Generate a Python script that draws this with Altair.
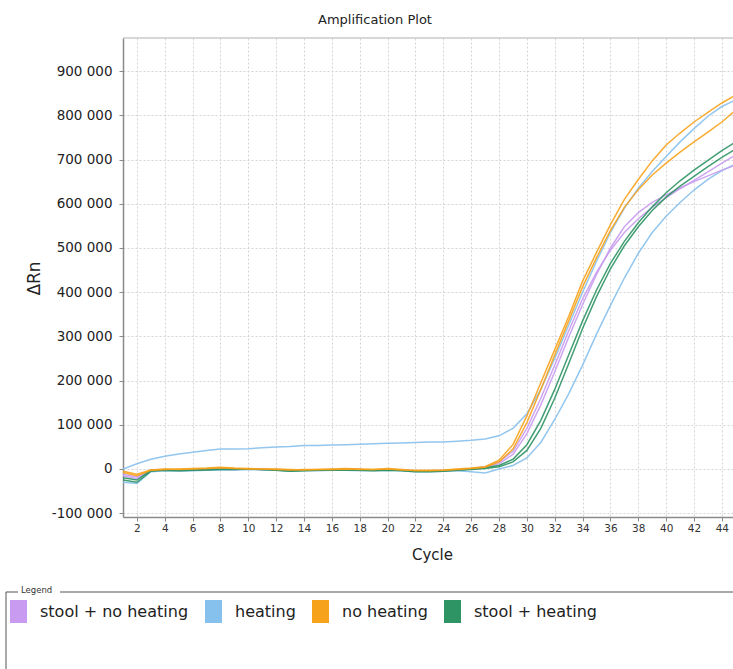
import altair as alt
import pandas as pd

cycles = list(range(1, 46))
groups = ["stool + no heating", "heating", "no heating", "stool + heating"]
colors = ["#c89bf0", "#86c0ec", "#f7a21b", "#2e9464"]
x_ticks = [2, 4, 6, 8, 10, 12, 14, 16, 18, 20, 22, 24, 26, 28, 30, 32, 34, 36, 38, 40, 42, 44]
y_ticks = [-100000, 0, 100000, 200000, 300000, 400000, 500000, 600000, 700000, 800000, 900000]

# ΔRn per well, cycles 1..45
stool_no_heating_a = [-12000, -18000, -2000, -1000, -2000, -1000, 0, 1000, 0, 0, -1000, -1000, -3000, -2000, -2000,
                      -1000, 0, -1000, -2000, -1000, -2000, -4000, -4000, -3000, -1000, 1000,
                      5000, 16000, 40000, 92000, 160000, 235000, 312000, 385000, 445000, 495000, 535000, 566000,
                      592000, 614000, 634000, 653000, 672000, 692000, 710000]
stool_no_heating_b = [-15000, -22000, -4000, -2000, -2000, -2000, -1000, 0, -1000, 0, 0, -2000, -3000, -3000, -2000,
                      -2000, -1000, -2000, -2000, -2000, -3000, -5000, -5000, -4000, -2000, 0,
                      3000, 12000, 33000, 80000, 145000, 220000, 298000, 372000, 440000, 500000, 548000, 580000,
                      603000, 620000, 636000, 650000, 663000, 676000, 688000]
heating_a = [0, 12000, 22000, 29000, 34000, 38000, 42000, 45000, 45000, 46000, 48000, 50000, 51000, 53000, 53000,
             54000, 55000, 56000, 57000, 58000, 59000, 60000, 61000, 61000, 63000, 65000,
             68000, 75000, 92000, 125000, 180000, 250000, 325000, 400000, 470000, 535000, 590000, 635000,
             673000, 707000, 740000, 770000, 798000, 820000, 835000]
heating_b = [-30000, -33000, -6000, -4000, -5000, -4000, -3000, -2000, -2000, -1000, -2000, -3000, -5000, -4000, -4000,
             -3000, -3000, -4000, -4000, -3000, -4000, -6000, -6000, -5000, -4000, -6000,
             -9000, 0, 8000, 25000, 60000, 112000, 170000, 235000, 305000, 370000, 432000, 488000,
             535000, 572000, 603000, 631000, 655000, 675000, 690000]
no_heating_a = [-5000, -12000, -2000, 0, -1000, 0, 1000, 3000, 1000, 0, 0, -1000, -2000, -1000, -1000,
                -1000, 0, -1000, -1000, 0, -2000, -3000, -3000, -2000, 0, 2000,
                5000, 20000, 55000, 120000, 195000, 270000, 345000, 425000, 490000, 553000, 610000, 655000,
                697000, 733000, 760000, 785000, 807000, 828000, 846000]
no_heating_b = [-8000, -15000, -3000, -1000, 0, 1000, 2000, 4000, 2000, 1000, 0, 0, -1000, -2000, -1000,
                0, 1000, 0, -1000, 1000, -1000, -4000, -4000, -3000, -1000, 1000,
                4000, 16000, 45000, 105000, 180000, 258000, 335000, 412000, 478000, 540000, 592000, 632000,
                665000, 692000, 717000, 740000, 762000, 785000, 812000]
stool_heating_a = [-20000, -25000, -3000, -2000, -3000, -2000, -1000, 0, 0, 0, -1000, -2000, -4000, -3000, -2000,
                   -2000, -1000, -2000, -3000, -2000, -3000, -5000, -5000, -4000, -2000, 0,
                   3000, 8000, 22000, 55000, 110000, 180000, 258000, 335000, 405000, 465000, 515000, 557000,
                   593000, 625000, 652000, 676000, 698000, 720000, 740000]
stool_heating_b = [-25000, -30000, -5000, -3000, -4000, -3000, -2000, -1000, -1000, 0, -1000, -3000, -5000, -4000, -3000,
                   -3000, -2000, -3000, -4000, -3000, -4000, -6000, -6000, -5000, -3000, -1000,
                   1000, 5000, 16000, 42000, 92000, 160000, 238000, 318000, 390000, 453000, 505000, 548000,
                   585000, 615000, 640000, 662000, 684000, 705000, 724000]

wells = [
    ("heating", "H2", heating_b),
    ("stool + no heating", "S1", stool_no_heating_a),
    ("stool + no heating", "S2", stool_no_heating_b),
    ("stool + heating", "T1", stool_heating_a),
    ("stool + heating", "T2", stool_heating_b),
    ("heating", "H1", heating_a),
    ("no heating", "N2", no_heating_b),
    ("no heating", "N1", no_heating_a),
]

rows = []
for g, w, vals in wells:
    for c, v in zip(cycles, vals):
        rows.append({"cycle": c, "value": v, "group": g, "well": w})
df = pd.DataFrame(rows)

W, H = 610, 479
FONT = "DejaVu Sans"

y_label_expr = "replace(replace(format(datum.value, ','), regexp(',', 'g'), ' '), '\u2212', '-')"

x_enc = alt.X("cycle:Q",
              scale=alt.Scale(domain=[1, 44.8], nice=False, zero=False),
              axis=alt.Axis(values=x_ticks, title="Cycle", titleX=309, titleY=42,
                            titleBaseline="alphabetic", titleAlign="center",
                            titleFont=FONT, titleFontSize=15, titleFontWeight="normal", titleColor="#222",
                            labelFont=FONT, labelFontSize=10.5, labelColor="#333", labelPadding=2,
                            tickSize=4, labelFlush=False, labelOverlap=False))
y_enc = alt.Y("value:Q",
              scale=alt.Scale(domain=[-108600, 975000], nice=False, zero=False),
              axis=alt.Axis(values=y_ticks, labelExpr=y_label_expr, title="\u0394Rn",
                            titleAngle=270, titleX=-84, titleY=240, titleAlign="center",
                            titleBaseline="alphabetic",
                            titleFont=FONT, titleFontSize=17, titleFontWeight="normal", titleColor="#222",
                            labelFont=FONT, labelFontSize=13.5, labelColor="#222", labelPadding=7,
                            tickSize=4, labelFlush=False, labelOverlap=False))

# invisible squares that only carry the filled legend (must be the first layer)
legend_layer = alt.Chart(df).mark_square(filled=True, opacity=0, size=1, clip=True).encode(
    x=x_enc,
    y=y_enc,
    fill=alt.Fill("group:N", scale=alt.Scale(domain=groups, range=colors),
                  legend=alt.Legend(title=None, orient="none", legendX=-116, legendY=562,
                                    direction="horizontal", symbolType="M-0.74,-1H0.74V1H-0.74Z",
                                    symbolSize=529, symbolStrokeWidth=0, symbolOpacity=1,
                                    labelFont=FONT, labelFontSize=16, labelColor="#222",
                                    labelOffset=10, columnPadding=13, padding=0, labelLimit=300)),
)

lines = alt.Chart(df).mark_line(strokeWidth=1.5, opacity=0.9, clip=True).encode(
    x=x_enc,
    y=y_enc,
    color=alt.Color("group:N", scale=alt.Scale(domain=groups, range=colors), legend=None),
    detail="well:N",
)

one = pd.DataFrame({"k": [0]})
top_border = alt.Chart(one).mark_rule(color="#b0b0b0", strokeWidth=1).encode(
    x=alt.value(0), x2=alt.value(W), y=alt.value(0))
frame_top_a = alt.Chart(one).mark_rule(color="#555", strokeWidth=1).encode(
    x=alt.value(-117), x2=alt.value(-105), y=alt.value(554))
frame_top_b = alt.Chart(one).mark_rule(color="#555", strokeWidth=1).encode(
    x=alt.value(-63), x2=alt.value(W + 5), y=alt.value(554))
frame_left = alt.Chart(one).mark_rule(color="#555", strokeWidth=1).encode(
    x=alt.value(-117), y=alt.value(554), y2=alt.value(H + 160))
frame_label = alt.Chart(one).mark_text(font=FONT, fontSize=8.5, color="#333", align="left",
                                      baseline="middle").encode(
    x=alt.value(-102), y=alt.value(552), text=alt.value("Legend"))

chart = alt.layer(
    legend_layer, lines, top_border, frame_top_a, frame_top_b, frame_left, frame_label
).properties(
    width=W, height=H,
    padding={"left": 123, "top": 38, "right": 0, "bottom": 152},
    autosize=alt.AutoSizeParams(type="none"),
    title=alt.TitleParams("Amplification Plot", font=FONT, fontSize=13, fontWeight="normal",
                          color="#222", anchor="middle", frame="group", dx=-53, offset=1,
                          baseline="alphabetic"),
).configure_view(stroke=None).configure_axis(
    domainColor="#8a8a8a", domainWidth=1.5, tickColor="#8a8a8a",
    gridColor="#d4d4d4", gridDash=[2, 2], gridWidth=1,
)

chart.save("out.html", embed_options={"renderer": "svg", "actions": False})
